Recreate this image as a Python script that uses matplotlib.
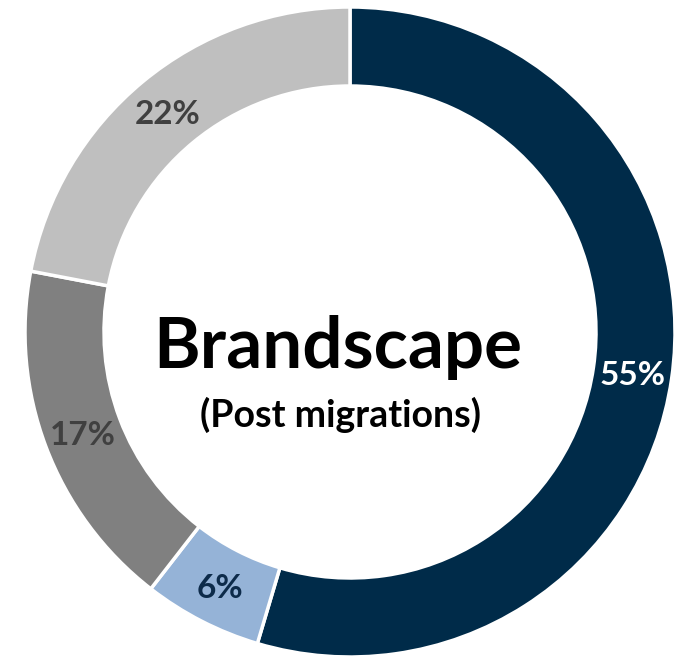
import matplotlib
matplotlib.use("Agg")
import matplotlib.pyplot as plt
import numpy as np

# Data (clockwise from 12 o'clock)
segments = ["Segment A", "Segment B", "Segment C", "Segment D"]
shares = [54.6, 5.9, 17.5, 22.0]
labels = ["55%", "6%", "17%", "22%"]
colors = ["#002B49", "#95B3D7", "#808080", "#BFBFBF"]
label_colors = ["#FFFFFF", "#0D2B4A", "#404040", "#404040"]
title = "Brandscape"
subtitle = "(Post migrations)"

plt.rcParams['font.family'] = ['Lato', 'DejaVu Sans']

fig = plt.figure(figsize=(6.90, 6.59), dpi=100)
ax = fig.add_axes([0, 0, 1, 1])

cx, cy = 350, 327
R = 325
ring = 79

wedges, _ = ax.pie(shares, colors=colors, startangle=90, counterclock=False,
                   radius=R, center=(cx, cy),
                   wedgeprops=dict(width=ring, edgecolor="white", linewidth=2.5))

rmid = R - ring / 2
for w, lab, lc in zip(wedges, labels, label_colors):
    ang = np.deg2rad((w.theta1 + w.theta2) / 2)
    ax.text(cx + rmid * np.cos(ang), cy + rmid * np.sin(ang), lab,
            ha="center", va="center_baseline", fontsize=24, fontweight="bold",
            color=lc)

ax.text(338, 659 - 341, title, ha="center", va="center_baseline",
        fontsize=51, fontweight="bold", color="black")
ax.text(341, 659 - 412, subtitle, ha="center", va="center_baseline",
        fontsize=27, fontweight="bold", color="black")

ax.set_xlim(0, 690)
ax.set_ylim(0, 659)
ax.set_aspect("equal")
ax.axis("off")

fig.savefig("out.png", dpi=100, facecolor="white")
